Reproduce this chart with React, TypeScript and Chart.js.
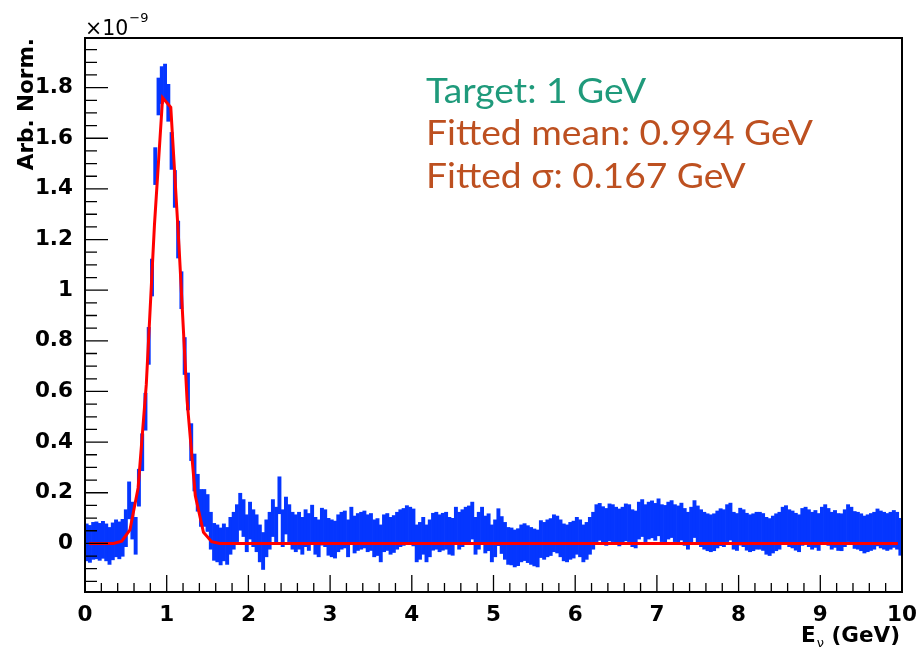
import React, { useEffect, useRef } from 'react';
import { Chart, registerables } from 'chart.js';

Chart.register(...registerables);

// ---- Histogram definition (E_nu in GeV) ----
const X_MIN = 0;
const X_MAX = 10;
const N_BINS = 250;

// Bin contents, in units of 1e-9 (Arb. Norm.)
const binValues: number[] = [
  0.004, -0.002, 0.01, 0.012, 0.006, 0.014, 0.004, -0.01, 0.008, 0.02,
  0.012, 0.022, 0.06, 0.17, 0.09, 0.03, 0.22, 0.36, 0.52, 0.78,
  1.05, 1.49, 1.765, 1.81, 1.82, 1.74, 1.55, 1.40, 1.20, 1.00,
  0.74, 0.60, 0.40, 0.28, 0.20, 0.14, 0.14, 0.12, 0.05, 0.006,
  0.0, -0.012, 0.004, -0.01, 0.03, 0.05, 0.08, 0.125, 0.10, 0.04,
  0.09, 0.06, 0.04, 0.0, -0.03, 0.02, 0.05, 0.1, 0.07, 0.19,
  0.06, 0.11, 0.08, 0.05, 0.04, 0.05, 0.03, 0.06, 0.045, 0.078,
  0.03, 0.02, 0.066, 0.06, 0.026, 0.02, 0.015, 0.04, 0.05, 0.055,
  0.02, 0.07, 0.035, 0.045, 0.05, 0.055, 0.04, 0.045, 0.02, 0.025,
  0.0, 0.04, 0.045, 0.03, 0.037, 0.05, 0.06, 0.065, 0.076, 0.07,
  0.063, 0.0, 0.01, 0.03, 0.0, 0.02, 0.046, 0.05, 0.04, 0.046,
  0.05, 0.03, 0.026, 0.07, 0.05, 0.06, 0.07, 0.075, 0.09, 0.03,
  0.05, 0.07, 0.035, 0.044, 0.0, 0.02, 0.064, 0.033, 0.01, -0.01,
  -0.012, -0.02, -0.015, 0.0, 0.005, -0.003, -0.01, -0.016, -0.02, 0.017,
  0.01, 0.02, 0.025, 0.04, 0.035, 0.02, 0.004, 0.0, 0.01, 0.015,
  0.03, 0.02, 0.0, 0.01, 0.03, 0.05, 0.08, 0.085, 0.072, 0.065,
  0.083, 0.08, 0.07, 0.063, 0.07, 0.083, 0.08, 0.06, 0.055, 0.09,
  0.1, 0.08, 0.09, 0.095, 0.085, 0.103, 0.08, 0.077, 0.09, 0.096,
  0.08, 0.075, 0.086, 0.065, 0.05, 0.07, 0.096, 0.075, 0.06, 0.05,
  0.044, 0.04, 0.044, 0.055, 0.064, 0.06, 0.08, 0.086, 0.05, 0.045,
  0.066, 0.06, 0.046, 0.04, 0.044, 0.05, 0.05, 0.045, 0.03, 0.025,
  0.035, 0.044, 0.05, 0.07, 0.076, 0.06, 0.055, 0.046, 0.04, 0.065,
  0.07, 0.06, 0.05, 0.057, 0.045, 0.07, 0.08, 0.065, 0.05, 0.057,
  0.045, 0.044, 0.06, 0.08, 0.07, 0.053, 0.05, 0.044, 0.035, 0.04,
  0.045, 0.05, 0.063, 0.055, 0.05, 0.045, 0.05, 0.057, 0.05, 0.026,
];

// Half-height of each error bar (1e-9 units)
const binErrorHalf = 0.073;

// Gaussian fit curve, sampled at 0.05, 0.15, ..., 9.95 GeV (1e-9 units)
const FIT_X0 = 0.05;
const FIT_DX = 0.1;
const fitValues: number[] = [
  0, 0, 0, 0, 0.009, 0.053, 0.219, 0.627, 1.257, 1.76,
  1.722, 1.178, 0.563, 0.188, 0.044, 0.007, 0, 0, 0, 0,
  0, 0, 0, 0, 0, 0, 0, 0, 0, 0,
  0, 0, 0, 0, 0, 0, 0, 0, 0, 0,
  0, 0, 0, 0, 0, 0, 0, 0, 0, 0,
  0, 0, 0, 0, 0, 0, 0, 0, 0, 0,
  0, 0, 0, 0, 0, 0, 0, 0, 0, 0,
  0, 0, 0, 0, 0, 0, 0, 0, 0, 0,
  0, 0, 0, 0, 0, 0, 0, 0, 0, 0,
  0, 0, 0, 0, 0, 0, 0, 0, 0, 0,
];

// Axis ticks
const xTickLabels = [0, 1, 2, 3, 4, 5, 6, 7, 8, 9, 10];
const yTickLabels = [0, 0.2, 0.4, 0.6, 0.8, 1, 1.2, 1.4, 1.6, 1.8];
const Y_MIN = -0.192;
const Y_MAX = 1.996;

const annotationLines = [
  { text: 'Target: 1 GeV', color: '#1f9a7b' },
  { text: 'Fitted mean: 0.994 GeV', color: '#bd5020' },
  { text: 'Fitted σ: 0.167 GeV', color: '#bd5020' },
];

const AXIS_FONT = 'DejaVu Sans';

const rootStylePlugin = {
  id: 'rootStyle',
  afterDatasetsDraw(chart: any) {
    const { ctx, chartArea } = chart;
    const xs = chart.scales.x;
    const ys = chart.scales.y;
    const { left, right, top, bottom } = chartArea;
    ctx.save();
    ctx.strokeStyle = '#000';
    ctx.lineWidth = 2;
    ctx.strokeRect(left, top, right - left, bottom - top);
    ctx.lineWidth = 1.3;
    ctx.beginPath();
    for (let k = -3; k <= 39; k++) {
      const v = k * 0.05;
      if (v < Y_MIN || v > Y_MAX) continue;
      const py = ys.getPixelForValue(v);
      const len = k % 4 === 0 ? 23 : 12;
      ctx.moveTo(left, py);
      ctx.lineTo(left + len, py);
    }
    for (let k = 0; k <= 50; k++) {
      const v = k * 0.2;
      const px = xs.getPixelForValue(v);
      const len = k % 5 === 0 ? 17 : 9;
      ctx.moveTo(px, bottom);
      ctx.lineTo(px, bottom - len);
    }
    ctx.stroke();
    ctx.restore();
  },
  afterDraw(chart: any) {
    const { ctx, chartArea } = chart;
    const { left, right, top, bottom } = chartArea;
    ctx.save();
    ctx.fillStyle = '#000';
    ctx.textAlign = 'left';
    ctx.textBaseline = 'alphabetic';
    ctx.font = `20.5px "${AXIS_FONT}"`;
    ctx.fillText('×10', left, top - 3);
    const w10 = ctx.measureText('×10').width;
    ctx.font = `13px "${AXIS_FONT}"`;
    ctx.fillText('−9', left + w10 + 1, top - 16);

    ctx.save();
    ctx.translate(33, top);
    ctx.rotate(-Math.PI / 2);
    ctx.textAlign = 'right';
    ctx.font = `bold 21.5px "${AXIS_FONT}"`;
    ctx.fillText('Arb. Norm.', 0, 0);
    ctx.restore();

    // x title: E_ν (GeV), right-aligned to the axis end
    const base = bottom + 50;
    const xEnd = right - 2;
    ctx.textAlign = 'right';
    ctx.font = `bold 21.5px "${AXIS_FONT}"`;
    ctx.fillText('(GeV)', xEnd, base);
    const wTail = ctx.measureText(' (GeV)').width;
    ctx.font = `13px "${AXIS_FONT}"`;
    const nuEnd = xEnd - wTail;
    ctx.fillText('ν', nuEnd, base + 5);
    const wNu = ctx.measureText('ν').width;
    ctx.font = `bold 21.5px "${AXIS_FONT}"`;
    ctx.fillText('E', nuEnd - wNu - 1, base);
    ctx.textAlign = 'left';

    // annotation, stretched to the reference's wide geometric face
    ctx.font = `34px "Lato"`;
    const sx = 387 / ctx.measureText(annotationLines[1].text).width;
    annotationLines.forEach((ln, i) => {
      ctx.save();
      ctx.translate(426, 102.5 + i * 42.6);
      ctx.scale(sx, 1);
      ctx.fillStyle = ln.color;
      ctx.fillText(ln.text, 0, 0);
      ctx.restore();
    });
    ctx.restore();
  },
};

export default function App() {
  const ref = useRef<HTMLCanvasElement | null>(null);
  useEffect(() => {
    if (!ref.current) return;
    const binW = (X_MAX - X_MIN) / N_BINS;
    const barData = binValues.map((v, i) => ({
      x: X_MIN + binW * (i + 0.5),
      y: [v - binErrorHalf, v + binErrorHalf],
    }));
    const fitData = fitValues.map((v, i) => ({ x: FIT_X0 + FIT_DX * i, y: v }));
    const tickFont = { family: AXIS_FONT, weight: 'bold' as const, size: 21.5 };
    const chart = new Chart(ref.current, {
      type: 'bar',
      data: {
        datasets: [
          {
            type: 'bar',
            data: barData as any,
            backgroundColor: '#0536ff',
            borderWidth: 0,
            barPercentage: 1,
            categoryPercentage: 1,
            order: 2,
          } as any,
          {
            type: 'line',
            data: fitData as any,
            borderColor: '#ff0000',
            borderWidth: 3,
            pointRadius: 0,
            tension: 0,
            fill: false,
            order: 1,
          } as any,
        ],
      },
      options: {
        responsive: false,
        animation: false,
        events: [],
        layout: { padding: { left: 0, right: 15, top: 38, bottom: 0 } },
        plugins: { legend: { display: false }, tooltip: { enabled: false } },
        scales: {
          x: {
            type: 'linear',
            min: X_MIN,
            max: X_MAX,
            offset: false,
            grid: { display: false },
            border: { display: false },
            afterBuildTicks: (s: any) => {
              s.ticks = xTickLabels.map((v) => ({ value: v }));
            },
            afterFit: (s: any) => {
              s.height = 58;
              s.paddingLeft = 0;
              s.paddingRight = 0;
            },
            ticks: {
              font: tickFont,
              color: '#000',
              padding: 3,
              maxRotation: 0,
              autoSkip: false,
              callback: (v: any) => String(v),
            },
          },
          y: {
            type: 'linear',
            min: Y_MIN,
            max: Y_MAX,
            grid: { display: false },
            border: { display: false },
            afterBuildTicks: (s: any) => {
              s.ticks = yTickLabels.map((v) => ({ value: v }));
            },
            afterFit: (s: any) => {
              s.width = 85;
              s.paddingTop = 0;
              s.paddingBottom = 0;
            },
            ticks: {
              font: tickFont,
              color: '#000',
              padding: 4,
              autoSkip: false,
              callback: (v: any) => String(Math.round(Number(v) * 10) / 10),
            },
          },
        },
      } as any,
      plugins: [rootStylePlugin],
    });
    return () => chart.destroy();
  }, []);
  return (
    <div style={{ position: 'absolute', left: 0, top: 0, width: 917, height: 650, background: '#fff' }}>
      <canvas ref={ref} width={917} height={650} style={{ width: 917, height: 650, display: 'block' }} />
    </div>
  );
}
